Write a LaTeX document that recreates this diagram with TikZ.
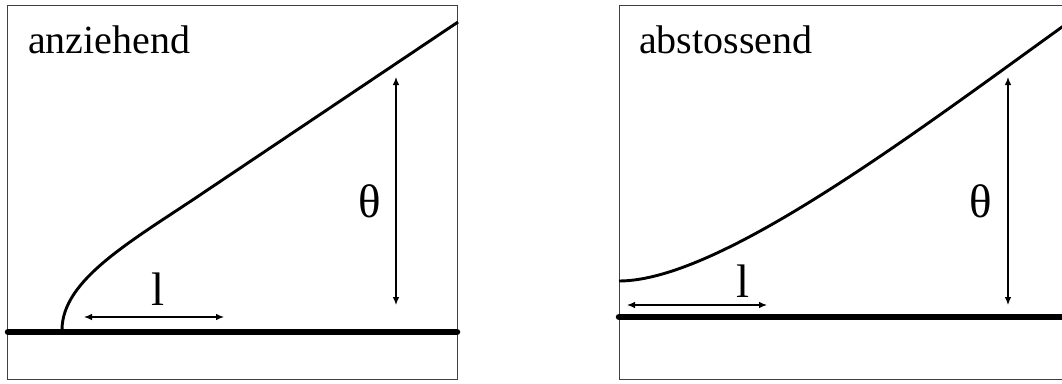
\documentclass[tikz,border=0pt]{standalone}
\usepackage{fontspec}
\setmainfont{Liberation Serif}
\usetikzlibrary{arrows.meta}
\begin{document}
\begin{tikzpicture}[x=1pt,y=-1pt,
  frame/.style={draw=black!75,line width=0.8pt},
  wall/.style={line width=6.5pt,line cap=round},
  curve/.style={line width=2.9pt},
  dim/.style={line width=1.1pt,{Latex[length=8pt,width=6.5pt]}-{Latex[length=8pt,width=6.5pt]}},
  title/.style={anchor=base west,inner sep=0pt,font=\fontsize{40}{44}\selectfont},
  lab/.style={inner sep=0pt,font=\fontsize{47}{50}\selectfont}]
\useasboundingbox (0,0) rectangle (1062,383);
\clip (0,0) rectangle (1062,383);
% left panel
\draw[frame] (7,5) rectangle (457,379);
\draw[wall] (8,332) -- (457,332);
\draw[curve] (62,330) .. controls (62,280) and (130,242) .. (200,195) -- (458,22);
\node[title] (tA) at (28,53) {anziehend};
\coordinate (tha1) at (396,77);
\coordinate (tha2) at (396,305);
\draw[dim] (tha1) -- (tha2);
\coordinate (la1) at (84,317);
\coordinate (la2) at (224,317);
\draw[dim] (la1) -- (la2);
\node[lab] (thA) at (370,201) {θ};
\node[lab] (lA) at (158,289) {l};
% right panel
\draw[frame] (619,5) rectangle (1080,379);
\draw[wall] (619,317) -- (1075,317);
\draw[curve] (619,281) .. controls (719,281) and (912,135) .. (1062,27) -- (1080,14);
\node[title] (tB) at (639,53) {abstossend};
\coordinate (thb1) at (1008,77);
\coordinate (thb2) at (1008,305);
\draw[dim] (thb1) -- (thb2);
\coordinate (lb1) at (627,305);
\coordinate (lb2) at (767,305);
\draw[dim] (lb1) -- (lb2);
\node[lab] (thB) at (981,201) {θ};
\node[lab] (lB) at (743,281) {l};
\end{tikzpicture}
\end{document}
